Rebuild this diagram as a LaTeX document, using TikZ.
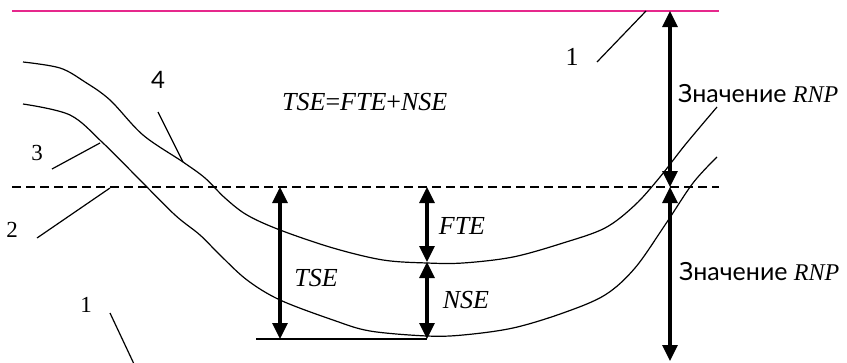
\documentclass[tikz,border=0pt]{standalone}
\usepackage{fontspec}
\setmainfont{Liberation Serif}
\newfontfamily\lato{Lato}
\usetikzlibrary{arrows.meta}
\definecolor{rnppink}{RGB}{230,40,140}
\tikzset{
  curveline/.style={line width=1.2pt, line join=round},
  leader/.style={line width=1.2pt},
  dimarrow/.style={line width=3.2pt, {Triangle[length=16pt,width=15pt]}-{Triangle[length=16pt,width=15pt]}},
  lbl/.style={inner sep=0pt, font=\fontsize{26}{30}\selectfont},
  numlbl/.style={inner sep=0pt, font=\fontsize{23}{26}\selectfont},
  sanslbl/.style={inner sep=0pt, font=\lato\fontsize{25}{28}\selectfont},
}
\newcommand{\rnpit}{{\rmfamily\fontsize{24}{28}\selectfont\textit{RNP}}}
\begin{document}
\begin{tikzpicture}[x=1pt,y=-1pt]
\useasboundingbox (0,0) rectangle (847,362);
% reference lines
\coordinate (pinkL) at (12,11);
\coordinate (pinkR) at (719,11);
\coordinate (dashL) at (12,187);
\coordinate (dashR) at (719,187);
\draw[rnppink, line width=1.4pt] (pinkL) -- (pinkR);
\draw[line width=2pt, dash pattern=on 9pt off 5pt] (dashL) -- (dashR);
% curves
\draw[curveline] plot[smooth, tension=0.55] coordinates {(23,62) (60,68) (85,82) (110,100) (143,135) (183,162) (205,178) (225,198) (247,215) (280,230) (333,248) (383,260) (427,263) (463,263) (513,257) (563,243) (605,228) (635,205) (660,177) (685,145) (717,107)};
\draw[curveline] plot[smooth, tension=0.55] coordinates {(23,104) (70,115) (103,143) (140,180) (175,215) (200,235) (220,255) (247,280) (280,300) (333,320) (370,331) (427,336) (463,335) (513,328) (563,313) (605,295) (635,268) (665,225) (693,183) (717,157)};
% base line
\coordinate (baseL) at (256,339);
\coordinate (baseR) at (427,339);
\draw[line width=1.8pt] (baseL) -- (baseR);
% dimension arrows
\coordinate (tseT) at (280,187);
\coordinate (tseB) at (280,339);
\coordinate (fteT) at (427,187);
\coordinate (fteB) at (427,262);
\coordinate (nseB) at (427,339);
\coordinate (rnpT) at (670,11);
\coordinate (rnpM) at (670,187);
\coordinate (rnpB) at (670,361);
\draw[dimarrow] (tseT) -- (tseB);
\draw[dimarrow] (fteT) -- (fteB);
\draw[dimarrow] (fteB) -- (nseB);
\draw[dimarrow] (rnpT) -- (rnpM);
\draw[dimarrow] (rnpM) -- (rnpB);
% labels
\node[lbl, anchor=base west] (eq) at (282,110) {\textit{TSE}=\textit{FTE}+\textit{NSE}};
\node[lbl] (tse) at (316,278) {\textit{TSE}};
\node[lbl] (fte) at (462,226) {\textit{FTE}};
\node[lbl] (nse) at (466,300) {\textit{NSE}};
\node[sanslbl, anchor=base west] (rnp1) at (678,102) {Значение \rnpit};
\node[sanslbl, anchor=base west] (rnp2) at (679,280) {Значение \rnpit};
% leader labels
\node[sanslbl, font=\lato\fontsize{24}{28}\selectfont] (n4) at (158,80) {4};
\node[numlbl] (n3) at (37,153) {3};
\node[numlbl] (n2) at (12,230) {2};
\node[numlbl] (n1a) at (86,305) {1};
\node[lbl] (n1b) at (572,57) {1};
\coordinate (l4a) at (158,112); \coordinate (l4b) at (183,162);
\coordinate (l3a) at (52,169);  \coordinate (l3b) at (100,143);
\coordinate (l2a) at (37,238);  \coordinate (l2b) at (110,188);
\coordinate (l1a) at (110,313); \coordinate (l1b) at (134,364);
\coordinate (l1c) at (597,62);  \coordinate (l1d) at (646,11);
\draw[leader] (l4a) -- (l4b);
\draw[leader] (l3a) -- (l3b);
\draw[leader] (l2a) -- (l2b);
\draw[leader] (l1a) -- (l1b);
\draw[leader] (l1c) -- (l1d);
\end{tikzpicture}
\end{document}
